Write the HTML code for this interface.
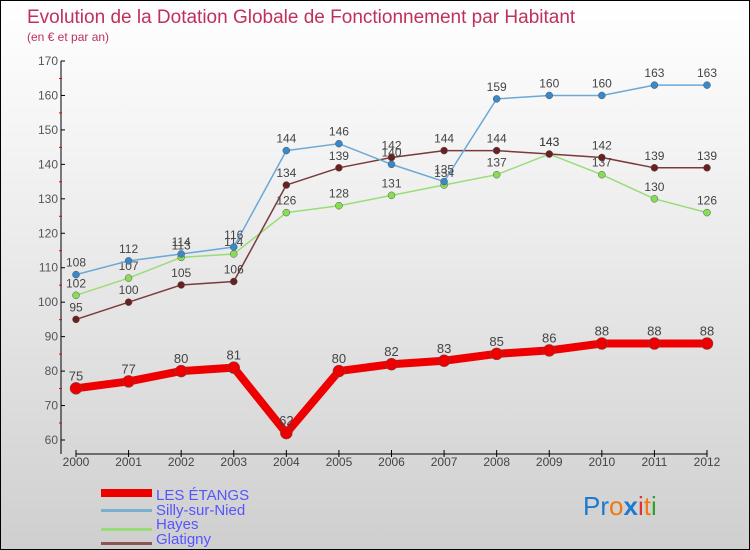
<!DOCTYPE html>
<html><head><meta charset="utf-8"><style>
body{margin:0}
#c{position:relative;width:750px;height:550px;box-sizing:border-box;border:1px solid #000;background:linear-gradient(#fff,#f2f2f2 30%,#cfcfcf);font-family:"Liberation Sans",sans-serif;overflow:hidden}
svg text{font-family:"Liberation Sans",sans-serif}
</style></head><body>
<div id="c">
<svg id="s" width="750" height="550">
<text x="26" y="22" font-size="19" fill="#c0305a">Evolution de la Dotation Globale de Fonctionnement par Habitant</text>
<text x="26" y="40" font-size="12" fill="#c0305a">(en € et par an)</text>
<g id="ax"></g><g id="series"></g>
<g>
<rect x="100" y="488" width="51" height="8" fill="#e00"/>
<text x="155" y="499" font-size="15" fill="#5555ff">LES ÉTANGS</text>
<rect x="100" y="508" width="51" height="3" fill="#7aaed0"/>
<text x="155" y="514" font-size="15" fill="#5555ff">Silly-sur-Nied</text>
<rect x="100" y="527" width="51" height="3" fill="#99dd77"/>
<text x="155" y="528" font-size="15" fill="#5555ff">Hayes</text>
<rect x="100" y="541" width="51" height="3" fill="#8a5555"/>
<text x="155" y="543" font-size="15" fill="#5555ff">Glatigny</text>
</g>
<text x="582" y="514" font-size="26"><tspan fill="#1a7bd0">Pr</tspan><tspan fill="#f07a10">o</tspan><tspan fill="#1a7bd0" font-weight="bold">x</tspan><tspan fill="#e03030">i</tspan><tspan fill="#f07a10">t</tspan><tspan fill="#30a030">i</tspan></text>
</svg></div>
<script>
const years=["2000","2001","2002","2003","2004","2005","2006","2007","2008","2009","2010","2011","2012"];
const yTicks=[60,70,80,90,100,110,120,130,140,150,160,170];
const etangs=[75,77,80,81,62,80,82,83,85,86,88,88,88];
const silly=[108,112,114,116,144,146,140,135,159,160,160,163,163];
const hayes=[102,107,113,114,126,128,131,134,137,143,137,130,126];
const glatigny=[95,100,105,106,134,139,142,144,144,143,142,139,139];
const NS="http://www.w3.org/2000/svg";
const X0=75,X1=706,Y0=439,Y1=60,VMIN=60,VMAX=170,AXL=60,AXB=453;
const xs=i=>X0+(X1-X0)*i/(years.length-1);
const ys=v=>Y0-(v-VMIN)/(VMAX-VMIN)*(Y0-Y1);
function mk(t,a,p){const e=document.createElementNS(NS,t);for(const k in a)e.setAttribute(k,a[k]);p.appendChild(e);return e;}
const ax=document.getElementById('ax');
let l=mk('line',{x1:AXL,y1:Y1,x2:AXL,y2:AXB,stroke:'#000'},ax);


l=mk('line',{x1:X0,y1:AXB,x2:X1,y2:AXB,stroke:'#000'},ax);


yTicks.forEach(v=>{const y=ys(v);
mk('line',{x1:AXL,y1:y,x2:AXL+4,y2:y,stroke:'#000'},ax);
if(v<VMAX)mk('line',{x1:AXL-2,y1:y-17,x2:AXL+1,y2:y-17,stroke:'#e00'},ax);
const t=mk('text',{x:AXL-3,y:y+4,'font-size':12,fill:'#555','text-anchor':'end'},ax);t.textContent=v;

});
years.forEach((yr,i)=>{const x=xs(i);
mk('line',{x1:x,y1:AXB-4,x2:x,y2:AXB+3,stroke:'#000'},ax);
const t=mk('text',{x:x,y:AXB+12,'font-size':12,fill:'#444','text-anchor':'middle'},ax);t.textContent=yr;

});
const sg=document.getElementById('series');
function draw(arr,name,col,dot,w,r,fs){
const g=mk('g',{},sg);


const pl=mk('polyline',{points:arr.map((v,i)=>xs(i)+','+ys(v)).join(' '),fill:'none',stroke:col,'stroke-width':w,'stroke-linejoin':'round'},g);


arr.forEach((v,i)=>{const c=mk('circle',{cx:xs(i),cy:ys(v),r:r,fill:dot,stroke:'#555','stroke-width':0.5},g);


const t=mk('text',{x:xs(i),y:ys(v)-8,'font-size':fs,fill:'#444','text-anchor':'middle'},g);t.textContent=v;

});}
draw(hayes,'hayes','#99dd77','#88dd55',1.5,3.5,12);
draw(glatigny,'glatigny','#7a3a3a','#6a2020',1.5,3.5,12);
draw(silly,'silly-sur-nied','#6aa8d8','#3a88cc',1.5,3.5,12);
draw(etangs,'les-etangs','#ee0000','#ee0000',8,6,13);
</script>
</body></html>
